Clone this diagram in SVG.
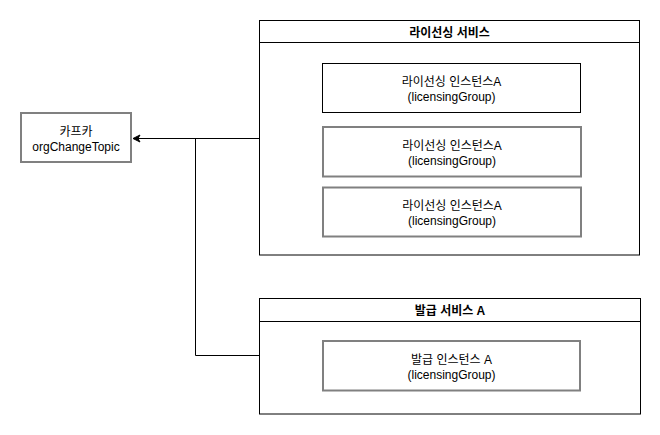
<svg xmlns="http://www.w3.org/2000/svg" width="660" height="435" viewBox="0 0 660 435">
<defs>
<style>
text{font-family:"Liberation Sans","Noto Sans CJK KR",sans-serif;font-size:12px;fill:#000;text-anchor:middle}
.title{font-weight:bold}
.container{fill:#fff;stroke:#000;stroke-width:1}
.box{fill:#fff;stroke:#808080;stroke-width:2}
.box1{fill:#fff;stroke:#000;stroke-width:1}
.edge{fill:none;stroke:#000;stroke-width:1}
</style>
<marker id="arrow" markerWidth="10" markerHeight="10" refX="8" refY="5" orient="auto" markerUnits="userSpaceOnUse">
<path d="M1,1.5 L8,5 L1,8.5 L3,5 Z" fill="#000" stroke="#000"/>
</marker>
</defs>
<rect width="660" height="435" fill="#fff"/>
<g id="kafka">
<rect class="box" x="21" y="113" width="110" height="49"/>
<text x="76" y="135.5">카프카</text>
<text x="76" y="151">orgChangeTopic</text>
</g>
<g id="licensing-service">
<rect class="container" x="259.5" y="20.5" width="380" height="234.5"/>
<line x1="259.5" y1="42.5" x2="639.5" y2="42.5" stroke="#000"/>
<text class="title" x="449.5" y="36.5">라이선싱 서비스</text>
</g>
<g id="licensing-instance-1">
<rect class="box1" x="322.5" y="63.5" width="258" height="49"/>
<text x="451.5" y="86">라이선싱 인스턴스A</text>
<text x="451.5" y="101">(licensingGroup)</text>
</g>
<g id="licensing-instance-2">
<rect class="box" x="323" y="127" width="258" height="49.5"/>
<text x="452" y="149.5">라이선싱 인스턴스A</text>
<text x="452" y="164.5">(licensingGroup)</text>
</g>
<g id="licensing-instance-3">
<rect class="box" x="323" y="187.5" width="258" height="49"/>
<text x="452" y="210">라이선싱 인스턴스A</text>
<text x="452" y="225">(licensingGroup)</text>
</g>
<g id="issuance-service">
<rect class="container" x="259.5" y="298.5" width="381" height="115.5"/>
<line x1="259.5" y1="321.5" x2="640.5" y2="321.5" stroke="#000"/>
<text class="title" x="450" y="314.5">발급 서비스 A</text>
</g>
<g id="issuance-instance">
<rect class="box" x="323" y="341" width="257" height="49.5"/>
<text x="451.5" y="363.5">발급 인스턴스 A</text>
<text x="451.5" y="378.5">(licensingGroup)</text>
</g>
<g id="connectors">
<path class="edge" d="M259.5,138.5 L133,138.5" marker-end="url(#arrow)"/>
<path class="edge" d="M259.5,355.5 L195.5,355.5 L195.5,138.5"/>
</g>
</svg>
